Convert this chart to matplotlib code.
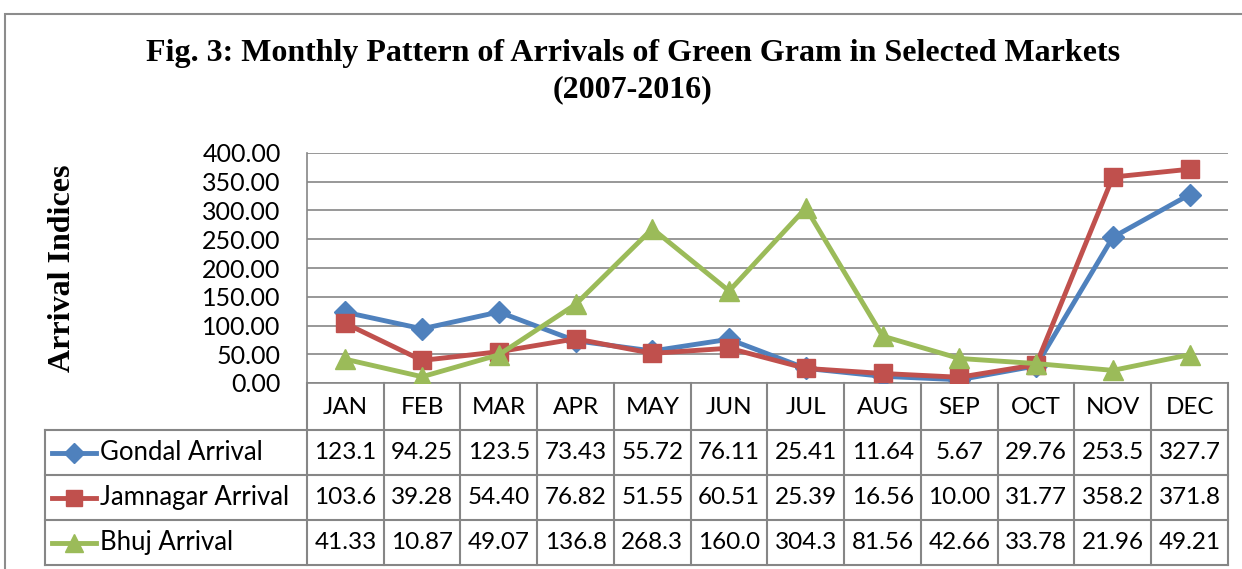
import matplotlib.pyplot as plt
from matplotlib.lines import Line2D
from matplotlib.patches import Rectangle

months = ['JAN', 'FEB', 'MAR', 'APR', 'MAY', 'JUN', 'JUL', 'AUG', 'SEP', 'OCT', 'NOV', 'DEC']
gondal = [123.1, 94.25, 123.5, 73.43, 55.72, 76.11, 25.41, 11.64, 5.67, 29.76, 253.5, 327.7]
jamnagar = [103.6, 39.28, 54.40, 76.82, 51.55, 60.51, 25.39, 16.56, 10.00, 31.77, 358.2, 371.8]
bhuj = [41.33, 10.87, 49.07, 136.8, 268.3, 160.0, 304.3, 81.56, 42.66, 33.78, 21.96, 49.21]
gondal_txt = ['123.1', '94.25', '123.5', '73.43', '55.72', '76.11', '25.41', '11.64', '5.67', '29.76', '253.5', '327.7']
jamnagar_txt = ['103.6', '39.28', '54.40', '76.82', '51.55', '60.51', '25.39', '16.56', '10.00', '31.77', '358.2', '371.8']
bhuj_txt = ['41.33', '10.87', '49.07', '136.8', '268.3', '160.0', '304.3', '81.56', '42.66', '33.78', '21.96', '49.21']
yticks = [0, 50, 100, 150, 200, 250, 300, 350, 400]

series = [
    ('Gondal Arrival', gondal, gondal_txt, '#4F81BD', 'D', 11),
    ('Jamnagar Arrival', jamnagar, jamnagar_txt, '#C0504D', 's', 13),
    ('Bhuj Arrival', bhuj, bhuj_txt, '#9BBB59', '^', 14),
]

W, H = 1242, 569
GRID = '#868686'
SANS = 'Lato'
SERIF = 'Liberation Serif'
FS = 17.5

fig = plt.figure(figsize=(W / 100, H / 100), dpi=100)

def fx(px):
    return px / W

def fy(py):
    return 1 - py / H

# outer frame
fig.add_artist(Rectangle((fx(5), fy(600)), fx(1300) - fx(5), fy(14) - fy(600),
                         transform=fig.transFigure, fill=False, edgecolor='#8c8c8c', lw=1.5))

fig.text(fx(633), fy(53), 'Fig. 3: Monthly Pattern of Arrivals of Green Gram in Selected Markets',
         ha='center', va='center', family=SERIF, fontweight='bold', fontsize=23)
fig.text(fx(633), fy(90), '(2007-2016)', ha='center', va='center',
         family=SERIF, fontweight='bold', fontsize=23)
fig.text(fx(62), fy(268), 'Arrival Indices', ha='center', va='center', rotation=90,
         family=SERIF, fontweight='bold', fontsize=23)

# plot area
L, R, T, B = 307, 1228, 153, 383
ax = fig.add_axes([fx(L), fy(B), fx(R) - fx(L), fy(T) - fy(B)])
x = list(range(len(months)))
for name, vals, txt, col, mk, ms in series:
    ax.plot(x, vals, color=col, lw=3.5, marker=mk, ms=ms, zorder=3)
ax.set_xlim(-0.5, 11.5)
ax.set_ylim(0, 400)
ax.set_yticks(yticks)
ax.set_yticklabels(['%.2f' % v for v in yticks], family=SANS, fontsize=FS + 0.5)
ax.tick_params(axis='y', length=0, pad=19)
ax.set_xticks([])
ax.grid(axis='y', color=GRID, lw=1.2)
ax.set_axisbelow(True)
for s in ['top', 'right']:
    ax.spines[s].set_visible(False)
ax.spines['left'].set_color(GRID)
ax.spines['bottom'].set_color(GRID)
ax.spines['left'].set_linewidth(1.2)
ax.spines['bottom'].set_linewidth(1.2)

# data table below
TL = 45
rows = [383, 430, 475, 520, 565]
tab = fig.add_axes([fx(TL), fy(rows[-1] + 2), fx(R) - fx(TL), fy(rows[0]) - fy(rows[-1] + 2)])
tab.set_xlim(TL, R)
tab.set_ylim(rows[-1] + 2, rows[0])
tab.axis('off')
cw = (R - L) / len(months)
lk = dict(color=GRID, lw=1.5, clip_on=False)
# header row
for i in range(len(months) + 1):
    tab.plot([L + i * cw] * 2, [rows[0], rows[-1]], **lk)
for i, m in enumerate(months):
    tab.text(L + (i + 0.5) * cw, (rows[0] + rows[1]) / 2 + 1, m, ha='center', va='center',
             family=SANS, fontsize=FS)
tab.plot([TL, R], [rows[1], rows[1]], **lk)
tab.plot([TL, TL], [rows[1], rows[-1]], **lk)
for r in rows[2:]:
    tab.plot([TL, R], [r, r], **lk)
for j, (name, vals, txt, col, mk, ms) in enumerate(series):
    yc = (rows[j + 1] + rows[j + 2]) / 2
    tab.add_line(Line2D([52, 96], [yc, yc], color=col, lw=3.5))
    tab.add_line(Line2D([74], [yc], color=col, marker=mk, ms=ms * 0.9, ls='none'))
    tab.text(100, yc, name, ha='left', va='center', family=SANS, fontsize=FS + 1)
    for i, t in enumerate(txt):
        tab.text(L + (i + 0.5) * cw, yc, t, ha='center', va='center', family=SANS, fontsize=FS)

fig.savefig('out.png', dpi=100)
